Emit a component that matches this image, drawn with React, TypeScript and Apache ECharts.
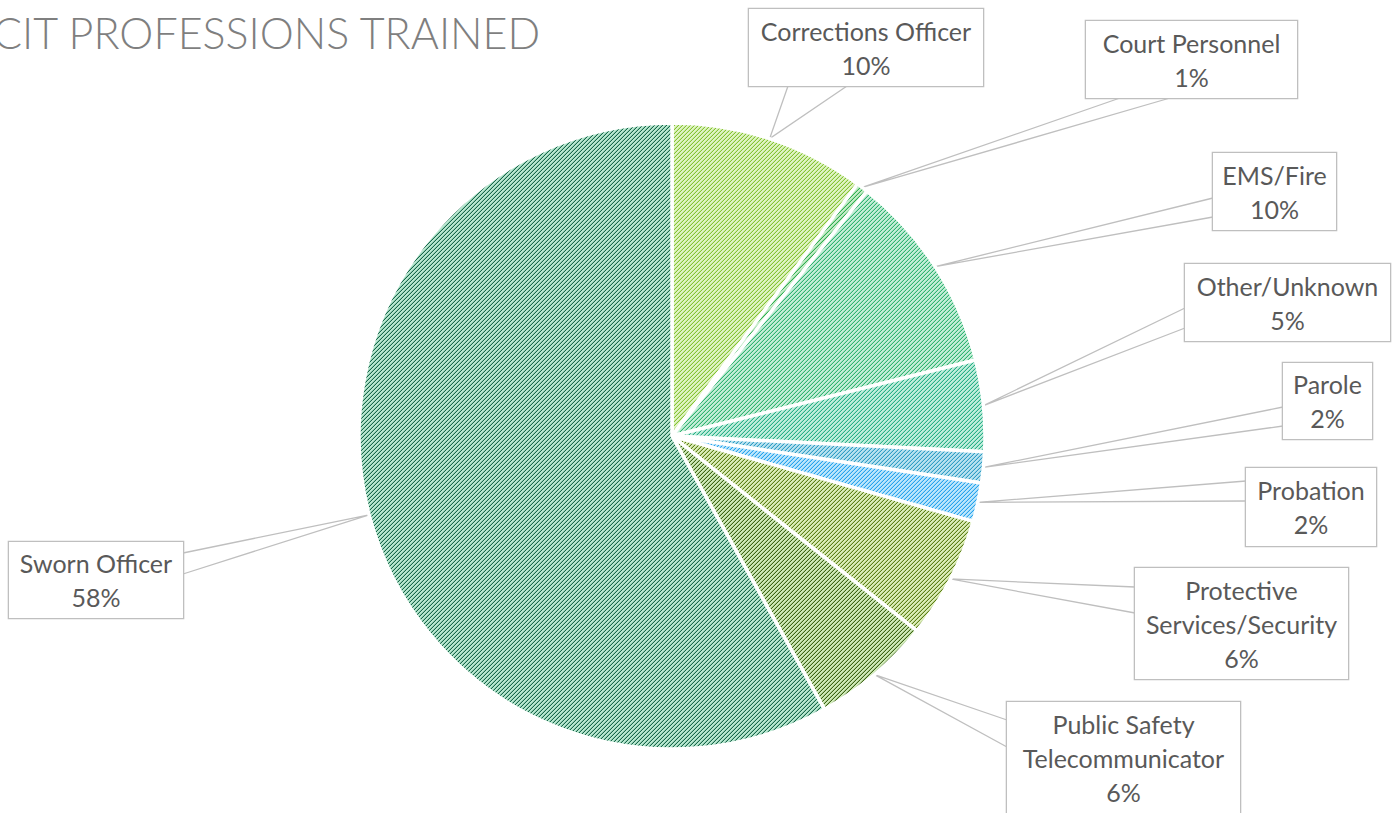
import React, { useEffect, useRef } from "react";
import * as echarts from "echarts";

// ---- data ----
const categories = [
  "Corrections Officer",
  "Court Personnel",
  "EMS/Fire",
  "Other/Unknown",
  "Parole",
  "Probation",
  "Protective Services/Security",
  "Public Safety Telecommunicator",
  "Sworn Officer",
];
const shares = [10.1, 0.6, 10.4, 4.7, 1.6, 2.0, 6.3, 6.2, 58.1];
const titleText = "CIT PROFESSIONS TRAINED";

// ---- styles ----
const fillColors = ["#e0f4c4", "#c4ecc8", "#c4eed8", "#c0eedc", "#b8e2f0", "#bce6fc", "#dceeb8", "#cfeab8", "#b8e8d0"];
const stripeColors = ["#84c232", "#2fae50", "#2fb270", "#27ae86", "#2f9cc4", "#25a2ec", "#5c7e16", "#3c6214", "#17664a"];

// label box layout: [left, top, width, height]
const labelBoxes = [
  [749, 9, 234, 77],
  [1086, 21, 211, 77],
  [1213, 153, 123, 77],
  [1185, 264, 205, 77],
  [1283, 363, 89, 76],
  [1246, 468, 130, 78],
  [1135, 568, 213, 111],
  [1007, 702, 233, 111],
  [9, 542, 174, 76],
];
// callout wedge base: [side, a, b]
const wedgeBases: [string, number, number][] = [
  ["bottom", 788, 847],
  ["bottom", 1120, 1170],
  ["left", 198, 217],
  ["left", 308, 328],
  ["left", 407, 426],
  ["left", 481, 501],
  ["left", 587, 613],
  ["left", 720, 747],
  ["right", 553, 574],
];

const LINE_H = 34;

function hexToRgb(h: string): number[] {
  const n = parseInt(h.slice(1), 16);
  return [(n >> 16) & 255, (n >> 8) & 255, n & 255];
}

function makePattern(bg: string, fg: string): HTMLCanvasElement {
  const c = document.createElement("canvas");
  c.width = 4;
  c.height = 4;
  const ctx = c.getContext("2d")!;
  ctx.fillStyle = bg;
  ctx.fillRect(0, 0, 4, 4);
  const b = hexToRgb(bg);
  const f = hexToRgb(fg);
  const mid = `rgb(${b.map((v, k) => Math.round(v * 0.75 + f[k] * 0.25)).join(",")})`;
  for (let y = 0; y < 4; y++) {
    for (let x = 0; x < 4; x++) {
      const m = (x + y) % 4;
      if (m === 3) {
        ctx.fillStyle = fg;
        ctx.fillRect(x, y, 1, 1);
      } else if (m === 2) {
        ctx.fillStyle = mid;
        ctx.fillRect(x, y, 1, 1);
      }
    }
  }
  return c;
}

export default function App() {
  const ref = useRef<HTMLDivElement>(null);
  useEffect(() => {
    if (!ref.current) return;
    const chart = echarts.init(ref.current, undefined, { renderer: "svg" });
    const data = categories.map((name, i) => {
      const box = labelBoxes[i];
      const lines = box[3] > 100 ? 3 : 2;
      const padTop = (box[3] - lines * LINE_H) / 2;
      return {
        name,
        value: shares[i],
        itemStyle: {
          color: { image: makePattern(fillColors[i], stripeColors[i]), repeat: "repeat" },
        },
        label: {
          width: box[2] - 8,
          padding: [padTop, 4, padTop, 4],
        },
      };
    });
    chart.setOption({
      animation: false,
      title: {
        text: titleText,
        left: -12,
        top: 6,
        textStyle: {
          fontFamily: "Lato",
          fontWeight: 300,
          fontSize: 43,
          color: "#7f7f7f",
        },
      },
      series: [
        {
          type: "pie",
          center: [672, 436],
          radius: 313,
          startAngle: 90,
          clockwise: true,
          silent: true,
          avoidLabelOverlap: false,
          itemStyle: { borderColor: "#ffffff", borderWidth: 3.5 },
          label: {
            show: true,
            position: "outside",
            formatter: (p: any) => {
              const i = p.dataIndex;
              let nm: string = p.name;
              if (labelBoxes[i][3] > 100) {
                const k = nm.lastIndexOf(" ");
                nm = nm.slice(0, k) + "\n" + nm.slice(k + 1);
              }
              return `${nm}\n${Math.round(p.percent)}%`;
            },
            fontFamily: "Lato",
            fontSize: 25,
            lineHeight: LINE_H,
            color: "#595959",
            backgroundColor: "#ffffff",
            borderColor: "#bfbfbf",
            borderWidth: 1.3,
            align: "center",
          },
          labelLine: {
            show: true,
            length: 10,
            length2: 10,
            smooth: false,
            lineStyle: { color: "#bfbfbf", width: 1.3 },
          },
          labelLayout: (params: any) => {
            const i = params.dataIndex;
            const [l, t, w, h] = labelBoxes[i];
            const [side, a, b] = wedgeBases[i];
            const tip = params.labelLinePoints ? params.labelLinePoints[0] : [l, t];
            let p1: number[];
            let p2: number[];
            if (side === "bottom") {
              p1 = [a, t + h];
              p2 = [b, t + h];
            } else if (side === "left") {
              p1 = [l, a];
              p2 = [l, b];
            } else {
              p1 = [l + w, a];
              p2 = [l + w, b];
            }
            return {
              x: l + w / 2,
              y: t + h / 2,
              align: "center",
              verticalAlign: "middle",
              hideOverlap: false,
              labelLinePoints: [p1, tip, p2],
            };
          },
          data,
        },
      ],
    });
    return () => chart.dispose();
  }, []);
  return (
    <div
      ref={ref}
      style={{ position: "fixed", left: 0, top: 0, width: 1396, height: 813, background: "#ffffff" }}
    />
  );
}
